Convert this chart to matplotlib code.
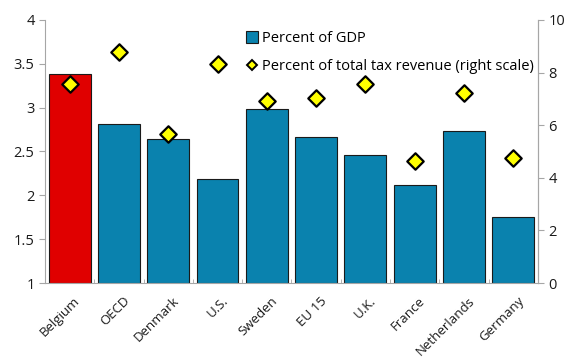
import matplotlib.pyplot as plt
import numpy as np
from matplotlib.lines import Line2D

plt.rcParams['font.family'] = ['Open Sans', 'DejaVu Sans']

countries = ['Belgium', 'OECD', 'Denmark', 'U.S.', 'Sweden', 'EU 15', 'U.K.',
             'France', 'Netherlands', 'Germany']
pct_gdp = [3.38, 2.81, 2.64, 2.19, 2.99, 2.66, 2.46, 2.12, 2.73, 1.75]
pct_tax = [7.57, 8.79, 5.67, 8.33, 6.93, 7.03, 7.57, 4.64, 7.22, 4.75]

blue = '#0A82AE'
red = '#E00000'
grey = '#A6A6A6'

fig = plt.figure(figsize=(5.71, 3.62), dpi=100)
ax = fig.add_axes([0.0788, 0.218, 0.8634, 0.727])
x = np.arange(len(countries))
colors = [red] + [blue] * (len(countries) - 1)
ax.bar(x, [v - 1 for v in pct_gdp], bottom=1, width=0.85, color=colors,
       edgecolor='#1a1a1a', linewidth=0.8, zorder=2)
ax.set_ylim(1, 4)
ax.set_xlim(-0.5, len(countries) - 0.5)
ax.set_yticks([1, 1.5, 2, 2.5, 3, 3.5, 4])
ax.set_yticklabels(['1', '1.5', '2', '2.5', '3', '3.5', '4'])

ax2 = ax.twinx()
ax2.scatter(x, pct_tax, marker='D', s=70, color='#FFFF00', edgecolor='black',
            linewidth=1.6, zorder=3)
ax2.set_ylim(0, 10)
ax2.set_yticks([0, 2, 4, 6, 8, 10])

ax.set_xticks(x + 0.08)
ax.set_xticklabels(countries, rotation=45, ha='right', rotation_mode='anchor')
ax.set_xticks(np.arange(-0.5, len(countries), 1), minor=True)
ax.tick_params(axis='x', which='major', length=0, pad=8)
ax.tick_params(axis='x', which='minor', length=3, direction='in', color=grey)

for a in (ax, ax2):
    for s in a.spines.values():
        s.set_color(grey)
    a.spines['top'].set_visible(False)
    a.tick_params(axis='y', length=4, color=grey, labelsize=10.5, labelcolor='#1a1a1a')
    a.tick_params(axis='x', labelsize=9.5, labelcolor='#1a1a1a')
ax2.spines['left'].set_visible(False)
ax2.spines['bottom'].set_visible(False)

handles = [
    Line2D([], [], marker='s', linestyle='none', markersize=8,
           markerfacecolor=blue, markeredgecolor='#1a1a1a', markeredgewidth=0.8),
    Line2D([], [], marker='D', linestyle='none', markersize=5,
           markerfacecolor='#FFFF00', markeredgecolor='black', markeredgewidth=1.4),
]
ax2.legend(handles, ['Percent of GDP', 'Percent of total tax revenue (right scale)'],
           loc='upper right', bbox_to_anchor=(1.01, 0.99), frameon=False,
           fontsize=10.5, handletextpad=0.1, labelspacing=0.85, borderaxespad=0.2,
           handlelength=1.2)

fig.savefig('out.png', dpi=100)
